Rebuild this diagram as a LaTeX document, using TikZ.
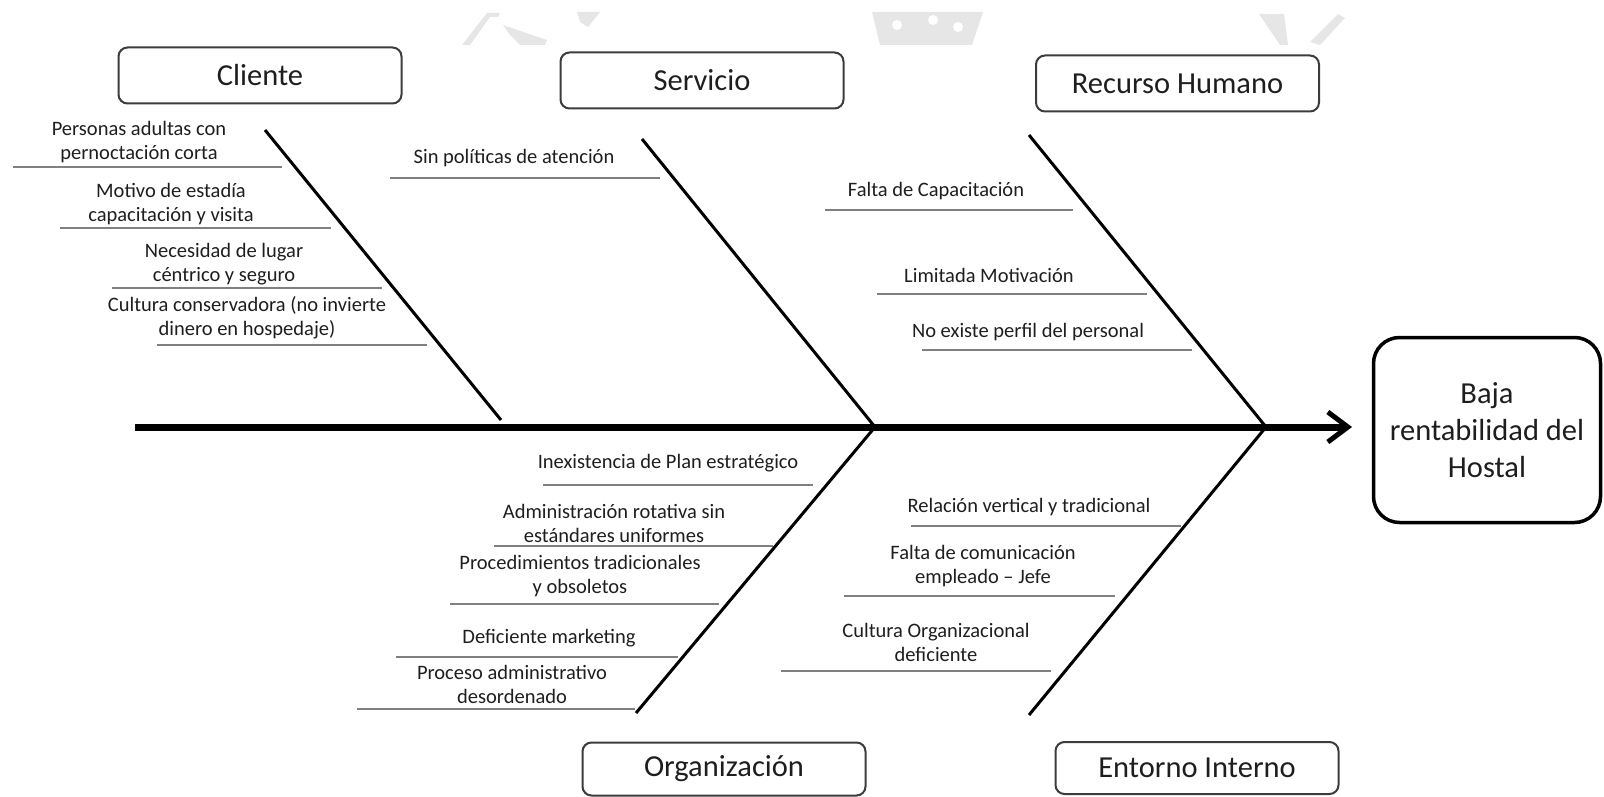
\documentclass[tikz,border=0pt]{standalone}
\usepackage{fontspec}
\setmainfont{Carlito}
\usetikzlibrary{arrows.meta}
\definecolor{ink}{HTML}{1E1E1E}
\definecolor{rulegray}{HTML}{808080}
\definecolor{framegray}{HTML}{3C3C3C}
\definecolor{markgray}{HTML}{E6E6E6}

% one cause: name, text x, text y, text, line start x, line end x, line y
\newcommand{\causa}[7]{%
  \node[cause] (#1) at (#2,#3) {#4};
  \draw[causeline] (#5,#7) -- (#6,#7);
}

\begin{document}
\begin{tikzpicture}[x=1pt,y=-1pt,
  category/.style={draw=framegray, line width=2pt, rounded corners=9pt,
    minimum width=283pt, minimum height=56pt, inner sep=0pt,
    font=\fontsize{30.5}{37}\selectfont, text=ink},
  effect/.style={draw=black, line width=3.5pt, rounded corners=26pt,
    minimum width=227pt, minimum height=185pt, inner sep=0pt, align=center,
    font=\fontsize{30.5}{37}\selectfont, text=ink},
  cause/.style={align=center, inner sep=0pt,
    font=\fontsize{20.5}{24}\selectfont, text=ink},
  causeline/.style={draw=rulegray, line width=1.6pt},
  bone/.style={draw=black, line width=3pt},
  spine/.style={draw=black, line width=7pt,
    -{Straight Barb[length=20pt,width=30pt,line width=5pt]}},
  watermark/.style={fill=markgray, draw=none}
]
\useasboundingbox (0,0) rectangle (1604,797);

% faint logo fragments along the top edge
\fill[watermark] (462,45) -- (487,13) -- (500,13) -- (498,17) -- (490,17) -- (470,45) -- cycle;
\fill[watermark] (503,25) -- (547,40) -- (545,45) -- (520,45) -- (510,35) -- cycle;
\fill[watermark] (577,12) -- (600,12) -- (588,27) -- (580,22) -- cycle;
\fill[watermark] (872,12) -- (983,12) -- (972,45) -- (880,45) -- cycle;
\fill[white] (897,25) circle (5) (933,20) circle (5) (958,27) circle (5);
\fill[watermark] (1259,14) -- (1284,14) -- (1288,45) -- (1280,45) -- cycle;
\fill[watermark] (1310,42) -- (1338,14) -- (1345,18) -- (1320,45) -- cycle;

% category boxes
\node[category] (cliente) at (260,75.5) {Cliente};
\node[category] (servicio) at (702,80.5) {Servicio};
\node[category] (rrhh) at (1177.5,83.5) {Recurso Humano};
\node[category, minimum height=53pt] (organizacion) at (724,769) {Organización};
\node[category, minimum height=52pt] (entorno) at (1197,768) {Entorno Interno};

% effect box
\node[effect] (efecto) at (1487,430) {Baja\\rentabilidad del\\Hostal};

% spine and bones
\coordinate (cola) at (135,427);
\coordinate (punta) at (1352,427);
\coordinate (jS) at (875,427);
\coordinate (jR) at (1266,427);
\coordinate (bC) at (265,130);
\coordinate (eC) at (501,420);
\coordinate (bS) at (642,139);
\coordinate (bR) at (1029,135);
\coordinate (bO) at (636,713);
\coordinate (bE) at (1029,715);

\draw[spine] (cola) -- (punta);
\draw[bone] (bC) -- (eC);
\draw[bone] (bS) -- (jS);
\draw[bone] (bR) -- (jR);
\draw[bone] (jS) -- (bO);
\draw[bone] (jR) -- (bE);

% Cliente
\causa{c1}{139}{142}{Personas adultas con\\pernoctación corta}{13}{282}{167}
\causa{c2}{171}{204}{Motivo de estadía\\capacitación y visita}{60}{331}{228}
\causa{c3}{224}{264}{Necesidad de lugar\\céntrico y seguro}{112}{382}{288}
\causa{c4}{247}{318}{Cultura conservadora (no invierte\\dinero en hospedaje)}{157}{427}{345}

% Servicio
\causa{s1}{514}{158}{Sin políticas de atención}{390}{660}{178}

% Recurso Humano
\causa{r1}{936}{191}{Falta de Capacitación}{825}{1073}{210}
\causa{r2}{989}{275}{Limitada Motivación}{877}{1147}{294}
\causa{r3}{1028}{332}{No existe perfil del personal}{922}{1192}{350}

% Organización
\causa{o1}{668}{463}{Inexistencia de Plan estratégico}{543}{813}{485}
\causa{o2}{614}{523}{Administración rotativa sin\\estándares uniformes}{494}{773}{546}
\causa{o3}{580}{576}{Procedimientos tradicionales\\y obsoletos}{450}{719}{604}
\causa{o4}{549}{638}{Deficiente marketing}{396}{678}{657}
\causa{o5}{512}{684}{Proceso administrativo\\desordenado}{357}{635}{709}

% Entorno Interno
\causa{e1}{1029}{507}{Relación vertical y tradicional}{911}{1181}{526}
\causa{e2}{983}{566}{Falta de comunicación\\empleado – Jefe}{844}{1115}{596}
\causa{e3}{936}{642}{Cultura Organizacional\\deficiente}{781}{1051}{671}
\end{tikzpicture}
\end{document}
